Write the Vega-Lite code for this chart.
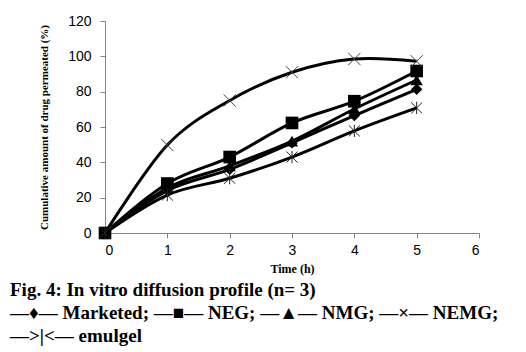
{
  "$schema": "https://vega.github.io/schema/vega-lite/v6.json",
  "width": 374,
  "height": 212,
  "autosize": {"type": "none"},
  "padding": {"left": 105, "top": 21, "right": 47, "bottom": 119},
  "background": "white",
  "config": {"view": {"stroke": null}},
  "title": {
    "text": "Fig. 4: In vitro diffusion profile (n= 3)",
    "subtitle": ["—♦— Marketed; —■— NEG; —▲— NMG; —×— NEMG;", "—>|<— emulgel"],
    "orient": "bottom",
    "anchor": "start",
    "frame": "group",
    "dx": -95,
    "offset": 7,
    "font": "Liberation Serif",
    "fontSize": 19,
    "fontWeight": "bold",
    "color": "black",
    "subtitleFont": "Liberation Serif",
    "subtitleFontSize": 19,
    "subtitleFontWeight": "bold",
    "subtitleColor": "black",
    "subtitlePadding": 4,
    "subtitleLineHeight": 23
  },
  "data": {
    "values": [
      {"time": 0, "series": "Marketed", "value": 0},
      {"time": 1, "series": "Marketed", "value": 24},
      {"time": 2, "series": "Marketed", "value": 36},
      {"time": 3, "series": "Marketed", "value": 51},
      {"time": 4, "series": "Marketed", "value": 66.5},
      {"time": 5, "series": "Marketed", "value": 81.3},
      {"time": 0, "series": "NEG", "value": 0},
      {"time": 1, "series": "NEG", "value": 28},
      {"time": 2, "series": "NEG", "value": 43},
      {"time": 3, "series": "NEG", "value": 62.3},
      {"time": 4, "series": "NEG", "value": 74.6},
      {"time": 5, "series": "NEG", "value": 91.7},
      {"time": 0, "series": "NMG", "value": 0},
      {"time": 1, "series": "NMG", "value": 25.5},
      {"time": 2, "series": "NMG", "value": 38},
      {"time": 3, "series": "NMG", "value": 52},
      {"time": 4, "series": "NMG", "value": 70.2},
      {"time": 5, "series": "NMG", "value": 86.6},
      {"time": 0, "series": "NEMG", "value": 0},
      {"time": 1, "series": "NEMG", "value": 49.8},
      {"time": 2, "series": "NEMG", "value": 75},
      {"time": 3, "series": "NEMG", "value": 91},
      {"time": 4, "series": "NEMG", "value": 98.5},
      {"time": 5, "series": "NEMG", "value": 97.2},
      {"time": 0, "series": "emulgel", "value": 0},
      {"time": 1, "series": "emulgel", "value": 21.5},
      {"time": 2, "series": "emulgel", "value": 31},
      {"time": 3, "series": "emulgel", "value": 43},
      {"time": 4, "series": "emulgel", "value": 57.8},
      {"time": 5, "series": "emulgel", "value": 70.8}
    ]
  },
  "encoding": {
    "x": {
      "field": "time", "type": "quantitative",
      "scale": {"domain": [0, 6], "nice": false},
      "axis": {
        "values": [0, 1, 2, 3, 4, 5, 6], "grid": false, "title": "Time (h)",
        "domainColor": "#868686", "tickColor": "#868686", "tickSize": 5,
        "labelFont": "Liberation Sans", "labelFontSize": 14, "labelColor": "black", "labelPadding": 5,
        "titleFont": "Liberation Serif", "titleFontSize": 12, "titleFontWeight": "bold", "titleColor": "black", "titlePadding": 6
      }
    },
    "y": {
      "field": "value", "type": "quantitative",
      "scale": {"domain": [0, 120], "nice": false},
      "axis": {
        "values": [0, 20, 40, 60, 80, 100, 120], "grid": false,
        "title": "Cumulative amount of drug permeated (%)",
        "domainColor": "#868686", "tickColor": "#868686", "tickSize": 5,
        "labelFont": "Liberation Sans", "labelFontSize": 14, "labelColor": "black", "labelPadding": 9,
        "titleFont": "Liberation Serif", "titleFontSize": 11, "titleFontWeight": "bold", "titleColor": "black", "titlePadding": 18
      }
    }
  },
  "layer": [
    {
      "mark": {"type": "line", "interpolate": "cardinal", "color": "black", "strokeWidth": 3},
      "encoding": {"detail": {"field": "series"}}
    },
    {
      "transform": [{"filter": {"field": "series", "equal": "Marketed"}}],
      "mark": {"type": "point", "filled": true, "color": "black", "opacity": 1, "shape": "diamond", "size": 130}
    },
    {
      "transform": [{"filter": {"field": "series", "equal": "NEG"}}],
      "mark": {"type": "point", "filled": true, "color": "black", "opacity": 1, "shape": "square", "size": 160}
    },
    {
      "transform": [{"filter": {"field": "series", "equal": "NMG"}}],
      "mark": {"type": "point", "filled": true, "color": "black", "opacity": 1, "shape": "triangle-up", "size": 150}
    },
    {
      "transform": [{"filter": {"field": "series", "equal": "NEMG"}}],
      "mark": {"type": "point", "filled": false, "color": "#444444", "strokeWidth": 1, "opacity": 1, "size": 150, "shape": "M-1,-1L1,1M-1,1L1,-1"}
    },
    {
      "transform": [{"filter": {"field": "series", "equal": "emulgel"}}],
      "mark": {"type": "point", "filled": false, "color": "#222222", "strokeWidth": 1, "opacity": 1, "size": 150, "shape": "M-0.9,-0.9L0.9,0.9M-0.9,0.9L0.9,-0.9M0,-1L0,1"}
    }
  ]
}
